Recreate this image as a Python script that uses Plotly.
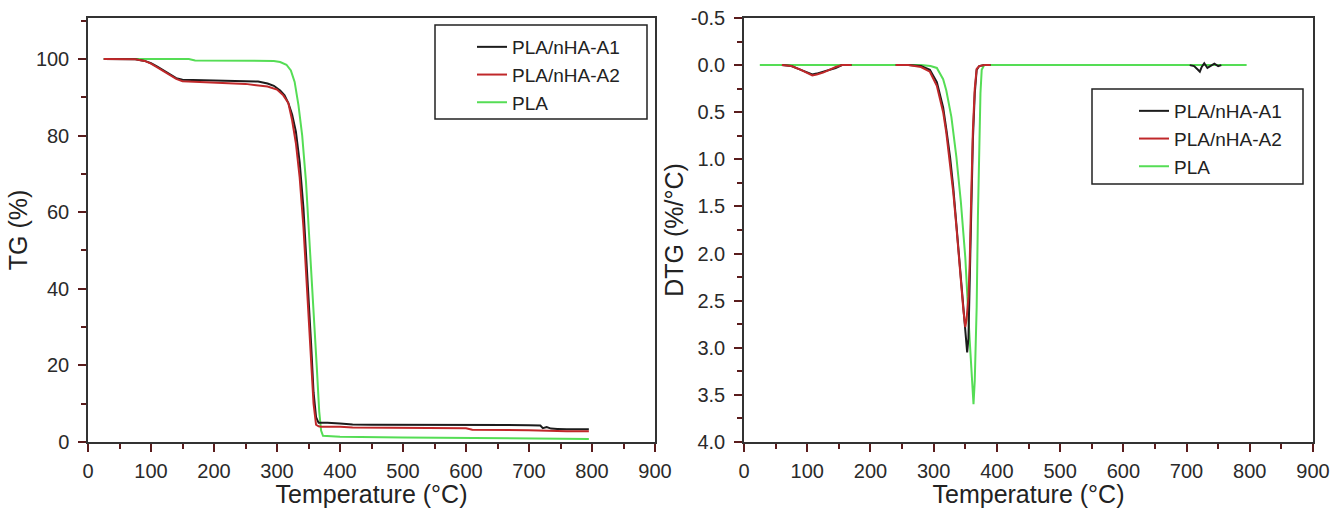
import plotly.graph_objects as go
from plotly.subplots import make_subplots

# ---------------- TG data (left) ----------------
tg_a1_T = [25, 50, 75, 90, 100, 110, 125, 140, 150, 175, 200, 225, 250, 270, 285, 295, 305, 312, 318, 324,
           330, 336, 342, 348, 354, 358, 362, 366, 370, 380, 400, 420, 450, 500, 600, 700, 718, 722, 728,
           735, 745, 760, 795]
tg_a1 = [100, 100, 99.9, 99.5, 98.9, 98, 96.5, 95, 94.6, 94.5, 94.5, 94.4, 94.3, 94.1, 93.6, 93, 91.8, 90.5,
         88.5, 85.5, 81, 73, 61, 45, 26, 13, 6.5, 5, 5, 5, 4.8, 4.6, 4.5, 4.5, 4.5, 4.4, 4.3, 3.6, 3.9,
         3.5, 3.4, 3.3, 3.3]

tg_a2_T = [25, 50, 75, 90, 100, 110, 125, 140, 150, 175, 200, 250, 285, 300, 310, 318, 324, 330, 336, 342,
           348, 354, 358, 362, 366, 370, 400, 420, 500, 600, 610, 700, 760, 795]
tg_a2 = [100, 100, 99.9, 99.5, 98.8, 97.8, 96.2, 94.8, 94.2, 94, 93.9, 93.5, 92.8, 92, 90.5, 88.5, 84, 78,
         69, 56, 39, 21, 10, 4.5, 4.1, 4, 4, 3.8, 3.7, 3.6, 3.2, 3.1, 2.8, 2.8]

tg_pla_T = [25, 100, 160, 170, 250, 295, 305, 315, 322, 328, 334, 340, 346, 352, 358, 363, 367, 370, 373,
            380, 400, 500, 560, 650, 750, 795]
tg_pla = [100, 100, 100, 99.6, 99.5, 99.5, 99.2, 98.5, 97, 94, 88, 80, 68, 52, 35, 20, 8, 3, 1.6, 1.5, 1.4,
          1.2, 1.1, 1.0, 0.9, 0.8]

# ---------------- DTG data (right) ----------------
dtg_a1_T = [60, 75, 90, 100, 108, 115, 125, 135, 145, 155, 170, None,
            240, 260, 280, 294, 305, 315, 320, 326, 331, 336, 341, 347, 351, 353, 355, 357, 359, 362, 365,
            368, 372, 380, 390, None,
            705, 712, 718, 721, 724, 728, 733, 738, 744, 750, 755]
dtg_a1 = [0, 0.01, 0.05, 0.08, 0.1, 0.09, 0.07, 0.05, 0.03, 0.0, 0, None,
          0, 0, 0.01, 0.05, 0.18, 0.45, 0.68, 0.98, 1.3, 1.68, 2.1, 2.57, 2.9, 3.05, 2.9, 2.2, 1.6, 0.8, 0.3,
          0.05, 0.01, 0, 0, None,
          0, 0.01, 0.05, 0.07, 0.02, -0.02, 0.03, 0.01, -0.015, 0.01, 0]

dtg_a2_T = [60, 75, 90, 100, 108, 115, 125, 135, 145, 155, 170, None,
            240, 260, 280, 294, 305, 315, 320, 326, 331, 336, 341, 347, 350, 352, 355, 357, 359, 362, 365,
            368, 372, 380, 390]
dtg_a2 = [0, 0.01, 0.05, 0.08, 0.11, 0.1, 0.08, 0.05, 0.02, 0, 0, None,
          0, 0, 0.02, 0.07, 0.22, 0.5, 0.72, 1.03, 1.35, 1.72, 2.15, 2.6, 2.78, 2.7, 2.46, 2.1, 1.5, 0.7,
          0.25, 0.04, 0.01, 0, 0]

dtg_pla_T = [25, 280, 295, 305, 315, 320, 328, 336, 343, 350, 357, 361, 363, 365, 368, 370, 372, 374, 376,
             380, 795]
dtg_pla = [0, 0, 0.01, 0.03, 0.15, 0.27, 0.55, 0.98, 1.45, 2.04, 2.92, 3.4, 3.6, 3.35, 2.57, 1.6, 0.8, 0.3,
           0.05, 0, 0]

# tick labels of the DTG axis (hyphen minus as in the original)
dtg_tick_vals = [-0.5, 0.0, 0.5, 1.0, 1.5, 2.0, 2.5, 3.0, 3.5, 4.0]
dtg_tick_text = ["-0.5", "0.0", "0.5", "1.0", "1.5", "2.0", "2.5", "3.0", "3.5", "4.0"]

names = ["PLA/nHA-A1", "PLA/nHA-A2", "PLA"]
colors = ["#1c1c1c", "#c0282a", "#55dd55"]

W, H = 1333, 508


def px(x):
    return x / W


def py(y):
    return 1 - y / H


fig = make_subplots(rows=1, cols=2)

# draw green first so black/red sit on top; legend order via legendrank
tg_sets = [(tg_a1_T, tg_a1), (tg_a2_T, tg_a2), (tg_pla_T, tg_pla)]
dtg_sets = [(dtg_a1_T, dtg_a1), (dtg_a2_T, dtg_a2), (dtg_pla_T, dtg_pla)]
for i in [2, 0, 1]:
    fig.add_trace(go.Scatter(x=tg_sets[i][0], y=tg_sets[i][1], mode="lines", name=names[i],
                             line=dict(color=colors[i], width=2), legend="legend",
                             legendrank=i + 1), row=1, col=1)
for i in [2, 0, 1]:
    fig.add_trace(go.Scatter(x=dtg_sets[i][0], y=dtg_sets[i][1], mode="lines", name=names[i],
                             line=dict(color=colors[i], width=2), legend="legend2",
                             legendrank=i + 1, connectgaps=False), row=1, col=2)

tick_font = dict(family="Liberation Sans, Arial, sans-serif", size=20, color="#2a2a2a")
title_font = dict(family="Liberation Sans, Arial, sans-serif", size=25, color="#222222")
legend_font = dict(family="Liberation Sans, Arial, sans-serif", size=19, color="#222222")
tickcol = "#5a1c1c"

xcommon = dict(range=[0, 900], dtick=100, tick0=0, ticks="outside", ticklen=8, tickwidth=1.5,
               tickcolor=tickcol, showline=True, linecolor="#333333", linewidth=1.5, mirror=True,
               showgrid=False, zeroline=False, tickfont=tick_font, automargin=False, ticklabelstandoff=2,
               minor=dict(dtick=50, ticks="outside", ticklen=5, tickcolor=tickcol, tickwidth=1.5),
               title=dict(text="Temperature (°C)", font=title_font, standoff=10))

fig.update_layout(
    width=W, height=H,
    margin=dict(l=0, r=0, t=0, b=0, autoexpand=False),
    paper_bgcolor="white", plot_bgcolor="white",
    showlegend=True,
    xaxis=dict(domain=[px(88), px(655)], **xcommon),
    xaxis2=dict(domain=[px(744), px(1313)], **xcommon),
    yaxis=dict(domain=[py(442), py(18)], range=[0, 110.7], dtick=20, tick0=0, ticks="outside", ticklen=8,
               tickwidth=1.5, tickcolor=tickcol, showline=True, linecolor="#333333", linewidth=1.5,
               mirror=True, showgrid=False, zeroline=False, tickfont=tick_font, automargin=False,
               ticklabelstandoff=5,
               minor=dict(dtick=10, ticks="outside", ticklen=5, tickcolor=tickcol, tickwidth=1.5),
               title=dict(text="TG (%)", font=title_font, standoff=1)),
    yaxis2=dict(domain=[py(442), py(18)], range=[4.0, -0.5], tickmode="array", tickvals=dtg_tick_vals,
                ticktext=dtg_tick_text,
                ticks="outside", ticklen=8, tickwidth=1.5, tickcolor=tickcol, showline=True,
                linecolor="#333333", linewidth=1.5, mirror=True, showgrid=False, zeroline=False,
                tickfont=tick_font, automargin=False, ticklabelstandoff=5,
                minor=dict(tickmode="linear", tick0=0, dtick=0.25, ticks="outside", ticklen=5,
                           tickcolor=tickcol, tickwidth=1.5),
                title=dict(text="DTG (%/°C)", font=title_font, standoff=0)),
    legend=dict(x=px(472), y=py(28), xanchor="left", yanchor="top", bgcolor="rgba(0,0,0,0)",
                borderwidth=0, font=legend_font, tracegroupgap=0),
    legend2=dict(x=px(1134), y=py(92), xanchor="left", yanchor="top", bgcolor="rgba(0,0,0,0)",
                 borderwidth=0, font=legend_font, tracegroupgap=0),
    shapes=[
        dict(type="rect", xref="paper", yref="paper", x0=px(435), x1=px(647), y0=py(119), y1=py(25),
             line=dict(color="#222222", width=1.5), fillcolor="rgba(0,0,0,0)"),
        dict(type="rect", xref="paper", yref="paper", x0=px(1092), x1=px(1303), y0=py(184), y1=py(89),
             line=dict(color="#222222", width=1.5), fillcolor="rgba(0,0,0,0)"),
    ],
)

fig.write_html("out.html", config={"displayModeBar": False},
               post_script="document.body.style.margin='0';document.body.style.overflow='hidden';")
